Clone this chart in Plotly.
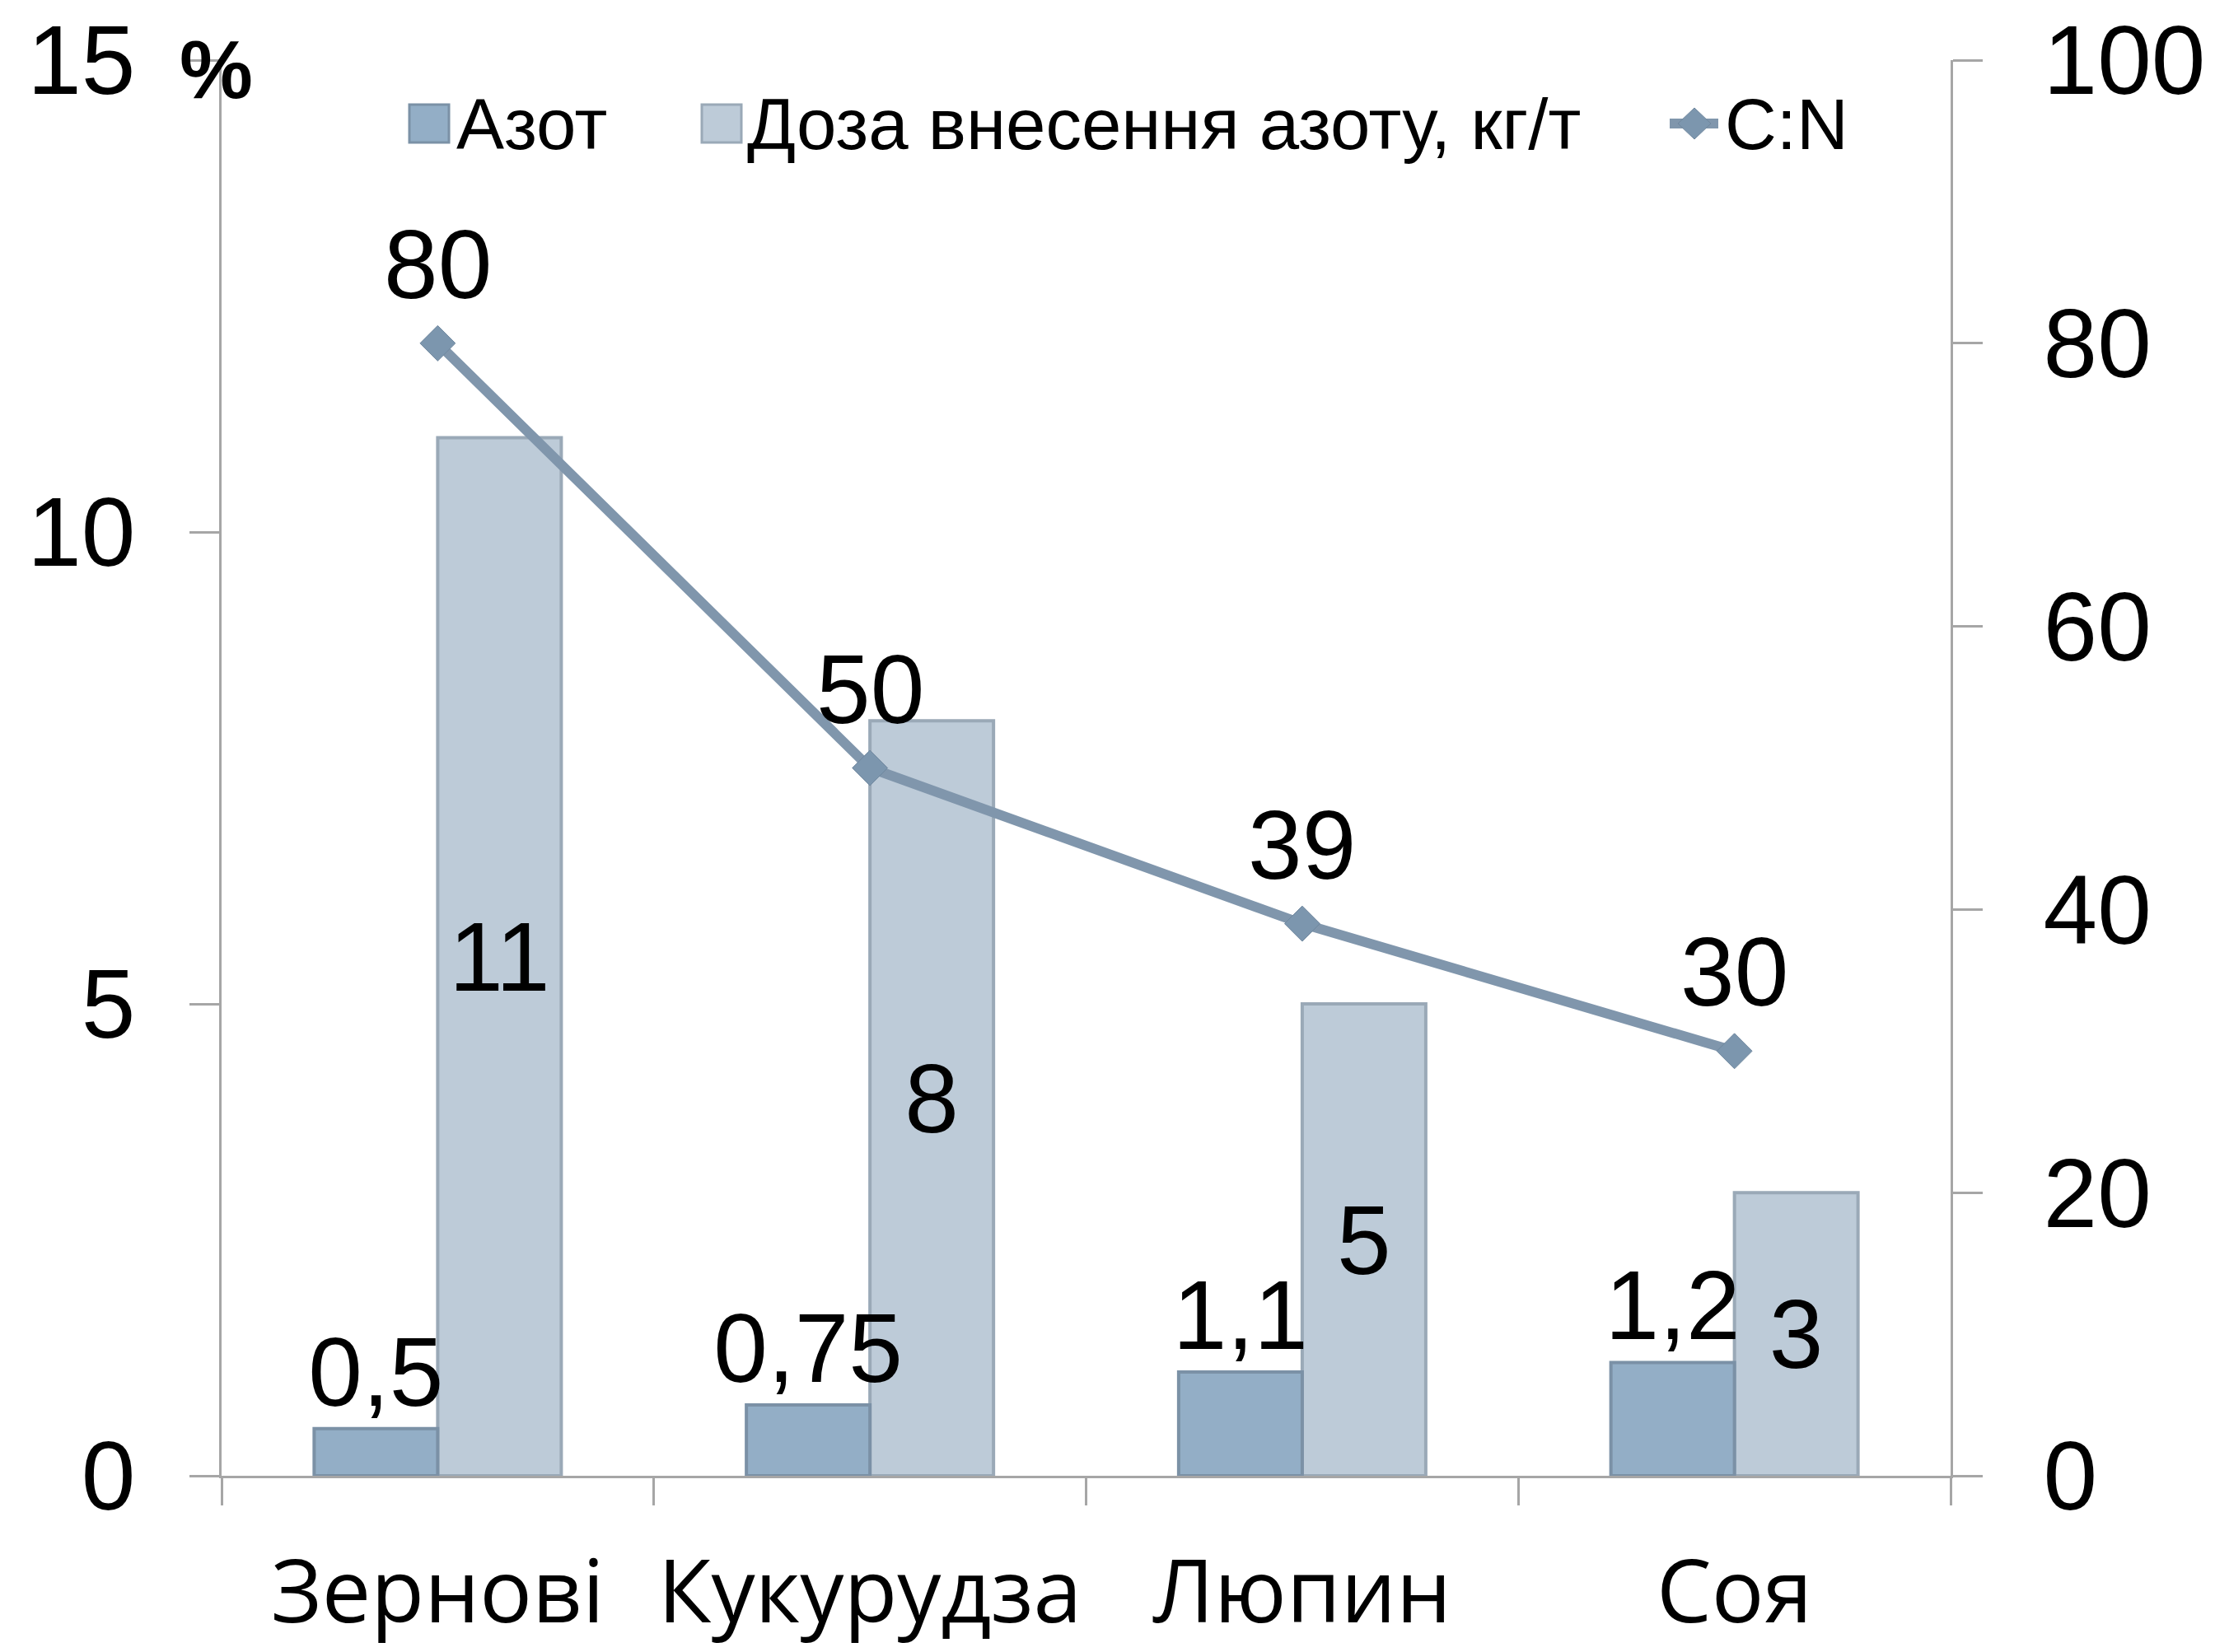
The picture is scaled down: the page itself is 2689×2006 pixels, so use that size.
import plotly.graph_objects as go

# ---- data -------------------------------------------------------------
categories = ["Зернові", "Кукурудза", "Люпин", "Соя"]
nitrogen_pct = [0.5, 0.75, 1.1, 1.2]          # Азот, %
n_dose = [11, 8, 5, 3]                         # Доза внесення азоту, кг/т
cn_ratio = [80, 50, 39, 30]                    # C:N
left_ticks = [0, 5, 10, 15]
right_ticks = [0, 20, 40, 60, 80, 100]
legend_names = ["Азот", "Доза внесення азоту, кг/т", "C:N"]

# ---- page geometry (pixels) -------------------------------------------
W, H = 2689, 2006
PL, PR, PT, PB = 269, 2368, 73, 1792
BAR_W = 150 / ((PR - PL) / len(categories))   # bar width in category units


def fx(x):
    return (x - PL) / (PR - PL)


def fy(y):
    return (PB - y) / (PB - PT)


def comma(v):
    return f"{v:g}".replace(".", ",")


NUM_FONT = "Liberation Sans, Arial, sans-serif"
CAT_FONT = "Open Sans, Noto Sans, sans-serif"
GREY = "#A6A6A6"
C_AZOT = "#93AEC6"
C_AZOT_EDGE = "#7B91A6"
C_DOSE = "#BDCBD8"
C_DOSE_EDGE = "#9AA9B7"
C_LINE = "#8096AC"
C_MARK = "#7C96AE"
NUM_SIZE = 118

fig = go.Figure()

# dose bars sit right of the category centre, nitrogen bars to the left;
# nitrogen is added last so its value labels are drawn over the dose bars
fig.add_bar(
    x=categories, y=n_dose, name=legend_names[1],
    width=BAR_W, offset=0,
    marker=dict(color=C_DOSE, line=dict(color=C_DOSE_EDGE, width=4)),
    text=[comma(v) for v in n_dose], textposition="inside",
    insidetextanchor="middle",
    textfont=dict(family=NUM_FONT, size=NUM_SIZE, color="black"),
    constraintext="none", showlegend=False,
)
fig.add_bar(
    x=categories, y=nitrogen_pct, name=legend_names[0],
    width=BAR_W, offset=-BAR_W,
    marker=dict(color=C_AZOT, line=dict(color=C_AZOT_EDGE, width=4)),
    text=[comma(v) for v in nitrogen_pct], textposition="outside",
    textfont=dict(family=NUM_FONT, size=NUM_SIZE, color="black"),
    constraintext="none", cliponaxis=False, showlegend=False,
)
fig.add_scatter(
    x=categories, y=cn_ratio, name=legend_names[2], yaxis="y2",
    mode="lines+markers",
    line=dict(color=C_LINE, width=12),
    marker=dict(symbol="diamond", size=33, color=C_MARK,
                line=dict(color="#6F879E", width=1)),
    cliponaxis=False, showlegend=False,
)

# labels of the C:N line, placed above each point
annotations = [
    dict(x=c, y=v, xref="x", yref="y2", text=comma(v), showarrow=False,
         yanchor="middle", yshift=96,
         font=dict(family=NUM_FONT, size=NUM_SIZE, color="black"))
    for c, v in zip(categories, cn_ratio)
]

# "%" unit mark at the top of the left axis
annotations.append(dict(
    x=fx(262), y=fy(84), xref="paper", yref="paper", text="<b>%</b>",
    showarrow=False, xanchor="center", yanchor="middle",
    font=dict(family=NUM_FONT, size=100, color="black"),
))

# ---- legend drawn at full scale ---------------------------------------
LEG_Y = 150
LEG_FONT = dict(family=NUM_FONT, size=87, color="black")
shapes = []
for (x0, x1), fill, edge in [((497, 545), C_AZOT, C_AZOT_EDGE),
                             ((852, 900), C_DOSE, C_DOSE_EDGE)]:
    shapes.append(dict(type="rect", xref="paper", yref="paper",
                       x0=fx(x0), x1=fx(x1), y0=fy(127), y1=fy(173),
                       fillcolor=fill, line=dict(color=edge, width=3)))
shapes.append(dict(type="line", xref="paper", yref="paper",
                   x0=fx(2027), x1=fx(2086), y0=fy(LEG_Y), y1=fy(LEG_Y),
                   line=dict(color=C_LINE, width=12)))
dx, dy, cx = 20, 19, 2057
shapes.append(dict(
    type="path", xref="paper", yref="paper",
    path=(f"M {fx(cx)},{fy(LEG_Y - dy)} L {fx(cx + dx)},{fy(LEG_Y)} "
          f"L {fx(cx)},{fy(LEG_Y + dy)} L {fx(cx - dx)},{fy(LEG_Y)} Z"),
    fillcolor=C_MARK, line=dict(color="#6F879E", width=1)))
for x_left, name in [(552, legend_names[0]), (905, legend_names[1]),
                     (2092, legend_names[2])]:
    annotations.append(dict(x=fx(x_left), y=fy(LEG_Y), xref="paper",
                            yref="paper", text=name, showarrow=False,
                            xanchor="left", yanchor="middle", font=LEG_FONT))

axis_common = dict(showgrid=False, zeroline=False, linecolor=GREY,
                   linewidth=3, tickcolor=GREY, tickwidth=3,
                   automargin=False)
tick_only = {k: v for k, v in axis_common.items()
             if k not in ("linecolor", "linewidth")}

fig.update_layout(
    width=W, height=H,
    margin=dict(l=PL, r=W - PR, t=PT, b=H - PB, autoexpand=False),
    paper_bgcolor="white", plot_bgcolor="white",
    barmode="overlay",
    showlegend=False,
    xaxis=dict(type="category", range=[-0.5, 3.5], showline=True,
               ticks="outside", tickson="boundaries", ticklen=33,
               tickangle=0,
               tickfont=dict(family=CAT_FONT, size=106, color="black"),
               ticklabelstandoff=48, **axis_common),
    xaxis2=dict(overlaying="x", anchor="y", type="linear",
                range=[-0.5, 3.5], tickvals=[-0.5, 0.5, 1.5, 2.5, 3.5],
                ticks="inside", ticklen=27, showticklabels=False,
                showline=False, **tick_only),
    yaxis=dict(range=[0, 15], tickvals=left_ticks, ticks="outside",
               ticklen=36, showline=True,
               tickfont=dict(family=NUM_FONT, size=NUM_SIZE, color="black"),
               ticklabelstandoff=42, **axis_common),
    yaxis3=dict(overlaying="y", anchor="x", range=[0, 15],
                tickvals=left_ticks, ticks="inside", ticklen=36,
                showticklabels=False, showline=False, **tick_only),
    yaxis2=dict(overlaying="y", side="right", anchor="x", range=[0, 100],
                tickvals=right_ticks, ticks="outside", ticklen=36,
                showline=True,
                tickfont=dict(family=NUM_FONT, size=NUM_SIZE, color="black"),
                ticklabelstandoff=50, **axis_common),
    yaxis4=dict(overlaying="y", side="right", anchor="x", range=[0, 100],
                tickvals=right_ticks, ticks="inside", ticklen=36,
                showticklabels=False, showline=False, **tick_only),
    annotations=annotations,
    shapes=shapes,
)

fig.write_html("out.html")
